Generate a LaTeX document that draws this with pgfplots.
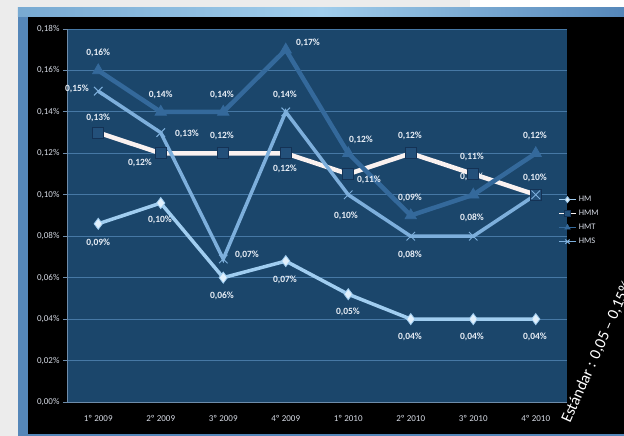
\documentclass[border=0pt]{standalone}
\usepackage{fontspec}
\setmainfont{Carlito}
\usepackage{pgfplots}
\pgfplotsset{compat=1.18}
\definecolor{pagegray}{RGB}{236,236,236}
\definecolor{frameA}{RGB}{120,170,210}
\definecolor{frameB}{RGB}{160,205,235}
\definecolor{frameC}{RGB}{85,135,185}
\definecolor{plotbg}{RGB}{27,70,107}
\definecolor{gridblue}{RGB}{70,120,165}
\definecolor{axisgray}{RGB}{110,140,170}
\definecolor{ticktext}{RGB}{215,220,230}
\definecolor{hmline}{RGB}{160,205,240}
\definecolor{hmmark}{RGB}{225,240,252}
\definecolor{hmmline}{RGB}{250,242,240}
\definecolor{hmmfill}{RGB}{35,80,122}
\definecolor{hmmdraw}{RGB}{20,50,85}
\definecolor{hmtline}{RGB}{52,105,155}
\definecolor{hmsline}{RGB}{125,175,220}
\definecolor{lbltext}{RGB}{232,238,246}
\tikzset{lbl/.style={text=lbltext, font=\bfseries\fontsize{9.5}{11}\selectfont, inner sep=1pt}}
\begin{document}
\begin{tikzpicture}
\begin{axis}[
  set layers,
  scale only axis, width=500pt, height=373pt,
  xmin=-0.5, xmax=7.5, ymin=0, ymax=0.18,
  axis x line*=bottom, axis y line*=left,
  axis line style={draw=axisgray, line width=0.8pt},
  ytick={0,0.02,0.04,0.06,0.08,0.10,0.12,0.14,0.16,0.18},
  yticklabels={{0,00\%},{0,02\%},{0,04\%},{0,06\%},{0,08\%},{0,10\%},{0,12\%},{0,14\%},{0,16\%},{0,18\%}},
  ymajorgrids, grid style={draw=gridblue, line width=0.8pt},
  xtick={0,...,7},
  xticklabels={1º 2009,2º 2009,3º 2009,4º 2009,1º 2010,2º 2010,3º 2010,4º 2010},
  major x tick style={draw=none},
  extra x ticks={-0.5,0.5,1.5,2.5,3.5,4.5,5.5,6.5,7.5},
  extra x tick labels={},
  extra x tick style={grid=none, major tick length=4pt, tick style={draw=axisgray, line width=0.8pt}},
  tick align=outside, major tick length=4pt,
  ytick style={draw=axisgray, line width=0.8pt},
  ticklabel style={text=ticktext, font=\fontsize{9}{10}\selectfont},
  xticklabel style={yshift=-6pt},
  /pgf/number format/assume math mode=true,
  clip=false,
  legend style={at={(0.976,0.563)}, anchor=north west, draw=none, fill=none,
    font=\fontsize{8.5}{10}\selectfont, text=ticktext, row sep=3pt},
  legend cell align=left,
  legend image post style={line width=1.5pt, mark size=3pt},
]
\begin{pgfonlayer}{axis background}
\fill[pagegray] ([shift={(-67pt,-34pt)}]rel axis cs:0,0) rectangle ([shift={(557pt,402pt)}]rel axis cs:0,0);
\fill[white] ([shift={(403pt,394pt)}]rel axis cs:0,0) rectangle ([shift={(557pt,402pt)}]rel axis cs:0,0);
\fill[frameC] ([shift={(-49pt,-34pt)}]rel axis cs:0,0) rectangle ([shift={(557pt,394pt)}]rel axis cs:0,0);
\shade[left color=frameA, right color=frameC, middle color=frameB] ([shift={(-49pt,385pt)}]rel axis cs:0,0) rectangle ([shift={(557pt,394pt)}]rel axis cs:0,0);
\fill[black] ([shift={(-39pt,-32pt)}]rel axis cs:0,0) rectangle ([shift={(557pt,385pt)}]rel axis cs:0,0);
\fill[plotbg] (rel axis cs:0,0) rectangle (rel axis cs:1,1);
\end{pgfonlayer}
\addplot[hmline, line width=3.5pt, mark=diamond*, mark size=5.5pt, mark options={fill=hmmark, draw=hmline, line width=0.8pt}]
 coordinates {(0,0.086) (1,0.096) (2,0.060) (3,0.068) (4,0.052) (5,0.040) (6,0.040) (7,0.040)};
\addlegendentry{HM}
\addplot[hmmline, line width=4.5pt, mark=square*, mark size=5.5pt, mark options={fill=hmmfill, draw=hmmdraw, line width=0.8pt}]
 coordinates {(0,0.13) (1,0.12) (2,0.12) (3,0.12) (4,0.11) (5,0.12) (6,0.11) (7,0.10)};
\addlegendentry{HMM}
\addplot[hmtline, line width=4.5pt, mark=triangle*, mark size=6.5pt, mark options={fill=hmtline, draw=hmtline, line width=0.8pt}]
 coordinates {(0,0.16) (1,0.14) (2,0.14) (3,0.17) (4,0.12) (5,0.09) (6,0.10) (7,0.12)};
\addlegendentry{HMT}
\addplot[hmsline, line width=3.5pt, mark=x, mark size=6pt, mark options={draw=hmsline, line width=1pt}]
 coordinates {(0,0.15) (1,0.13) (2,0.069) (3,0.14) (4,0.10) (5,0.08) (6,0.08) (7,0.10)};
\addlegendentry{HMS}
% HMT labels
\node[lbl] at (axis cs:0,0.1684) {0,16\%};
\node[lbl] at (axis cs:1,0.1481) {0,14\%};
\node[lbl] at (axis cs:1.98,0.1481) {0,14\%};
\node[lbl] at (axis cs:3.356,0.1732) {0,17\%};
\node[lbl] at (axis cs:4.204,0.1264) {0,12\%};
\node[lbl] at (axis cs:4.988,0.0984) {0,09\%};
\node[lbl] at (axis cs:5.98,0.1086) {0,10\%};
\node[lbl] at (axis cs:6.988,0.1284) {0,12\%};
% HMM labels
\node[lbl] at (axis cs:0,0.1370) {0,13\%};
\node[lbl] at (axis cs:0.668,0.1153) {0,12\%};
\node[lbl] at (axis cs:1.98,0.1284) {0,12\%};
\node[lbl] at (axis cs:2.988,0.1124) {0,12\%};
\node[lbl] at (axis cs:4.332,0.1071) {0,11\%};
\node[lbl] at (axis cs:4.988,0.1284) {0,12\%};
\node[lbl] at (axis cs:5.98,0.1182) {0,11\%};
\node[lbl] at (axis cs:6.988,0.1081) {0,10\%};
% HMS labels
\node[lbl] at (axis cs:-0.34,0.1510) {0,15\%};
\node[lbl] at (axis cs:1.42,0.1293) {0,13\%};
\node[lbl] at (axis cs:2.38,0.0709) {0,07\%};
\node[lbl] at (axis cs:2.988,0.1481) {0,14\%};
\node[lbl] at (axis cs:3.964,0.0898) {0,10\%};
\node[lbl] at (axis cs:4.988,0.0709) {0,08\%};
\node[lbl] at (axis cs:5.98,0.0888) {0,08\%};
% HM labels
\node[lbl] at (axis cs:0,0.0767) {0,09\%};
\node[lbl] at (axis cs:0.988,0.0878) {0,10\%};
\node[lbl] at (axis cs:1.98,0.0512) {0,06\%};
\node[lbl] at (axis cs:2.988,0.0589) {0,07\%};
\node[lbl] at (axis cs:3.996,0.0434) {0,05\%};
\node[lbl] at (axis cs:4.988,0.0314) {0,04\%};
\node[lbl] at (axis cs:5.98,0.0314) {0,04\%};
\node[lbl] at (axis cs:6.988,0.0314) {0,04\%};
\node[overlay, rotate=66, anchor=base west, text=white, font=\fontsize{16}{18}\selectfont, inner sep=0pt] at ([shift={(503pt,-22pt)}]rel axis cs:0,0) {Estándar : 0,05 – 0,15\%};
\end{axis}
\end{tikzpicture}
\end{document}
